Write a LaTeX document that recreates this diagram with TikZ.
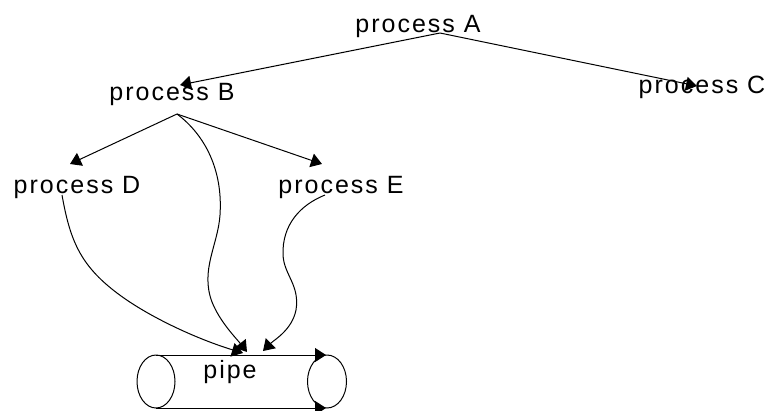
\documentclass[tikz,border=0pt]{standalone}
\usepackage{fontspec}
\setmainfont{Liberation Sans}[LetterSpace=8]
\usetikzlibrary{arrows.meta, calc}

\begin{document}
\begin{tikzpicture}[x=1pt, y=-1pt]
    \tikzstyle{proc} = [inner sep=0pt, anchor=base, font=\fontsize{25}{29}\selectfont]
    \tikzstyle{link} = [line width=1pt, -{Triangle[length=11pt, width=14pt]}]
    \useasboundingbox (0,0) rectangle (767,410);

    \node[proc] (A) at (418,32) {process A};
    \node[proc] (B) at (172,100) {process B};
    \node[proc] (C) at (702,93) {process C};
    \node[proc] (D) at (77,193) {process D};
    \node[proc] (E) at (341,193) {process E};
    \node[proc] (pipe) at (230,378) {pipe};

    % the pipe as a cylinder lying on its side
    \coordinate (pl) at (156,381.5);
    \coordinate (pr) at (327,381.5);
    \draw[line width=1pt] (pl) ellipse [x radius=19pt, y radius=26.5pt];
    \draw[line width=1pt] (pr) ellipse [x radius=19.5pt, y radius=26.5pt];
    \draw[link] ($(pl)+(0,-26.5)$) -- ($(pr)+(-1,-26.5)$);
    \draw[link] ($(pl)+(0,26.5)$) -- ($(pr)+(-1,26.5)$);

    \coordinate (inD) at (243,353);
    \coordinate (inB) at (247,352);
    \coordinate (inE) at (263,351);

    % fork tree
    \draw[link] ([shift={(22,1)}]A.base) -- ([shift={(8,-15)}]B.base);
    \draw[link] ([shift={(22,1)}]A.base) -- ([shift={(-5,-7)}]C.base);
    \draw[link] ([shift={(5,14)}]B.base) -- ([shift={(-7,-29)}]D.base);
    \draw[link] ([shift={(5,14)}]B.base) -- ([shift={(-19,-29)}]E.base);

    % writers into the pipe
    \draw[link] ([shift={(5,14)}]B.base) .. controls (205,135) and (223,170) .. (220,215)
        .. controls (218,245) and (200,270) .. (212,302)
        .. controls (220,322) and (236,338) .. (inB);
    \draw[link] ([shift={(-15,2)}]D.base) .. controls (70,240) and (80,265) .. (117,293)
        .. controls (150,318) and (200,340) .. (inD);
    \draw[link] ([shift={(-16,2)}]E.base) .. controls (300,205) and (282,225) .. (283,255)
        .. controls (284,275) and (300,285) .. (296,310)
        .. controls (292,330) and (274,340) .. (inE);
\end{tikzpicture}
\end{document}
